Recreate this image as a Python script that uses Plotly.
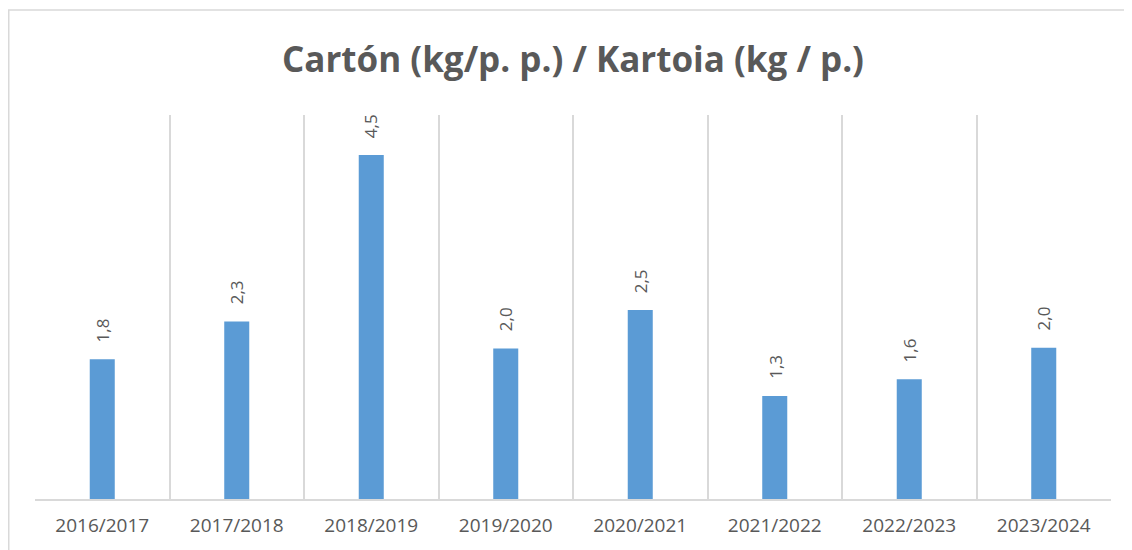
import plotly.graph_objects as go

categories = ["2016/2017", "2017/2018", "2018/2019", "2019/2020",
              "2020/2021", "2021/2022", "2022/2023", "2023/2024"]
values = [1.82, 2.31, 4.48, 1.96, 2.46, 1.34, 1.56, 1.97]
title_text = "Cartón (kg/p. p.) / Kartoia (kg / p.)"

gray = "#595959"
grid = "#d9d9d9"

fig = go.Figure()
fig.add_trace(go.Bar(
    x=categories, y=values,
    marker=dict(color="#5B9BD5", line=dict(width=0)),
    width=0.186,
    hoverinfo="skip",
))

for c, v in zip(categories, values):
    fig.add_annotation(
        x=c, y=v, text=f"{v:.1f}".replace(".", ","),
        textangle=-90, showarrow=False, yanchor="bottom",
        yshift=15, font=dict(family="Open Sans", size=17, color=gray),
    )

# page body has an 8px offset, so the figure is laid out 8px smaller
W, H = 1124, 542
ml, mr, mt, mb = 27, 21, 107, 47
pw, ph = W - ml - mr, H - mt - mb
fig.add_shape(
    type="rect", xref="paper", yref="paper",
    x0=(0.75 - ml) / pw, x1=(1123 - ml) / pw,
    y0=(H - mb - 600) / ph, y1=(H - mb - 1) / ph,
    line=dict(color=grid, width=1.5), fillcolor="rgba(0,0,0,0)", layer="below",
)

fig.update_layout(
    width=W, height=H,
    margin=dict(l=ml, r=mr, t=mt, b=mb),
    paper_bgcolor="white", plot_bgcolor="white",
    separators=",.",
    showlegend=False,
    title=dict(text=title_text, x=0.5, xref="paper", y=1 - 52 / H, yanchor="middle",
               font=dict(family="Open Sans", size=35, color=gray, weight="bold")),
    xaxis=dict(
        tickson="boundaries", showgrid=True, gridcolor=grid, gridwidth=1.5,
        showline=True, linecolor=grid, linewidth=1.5, ticks="",
        tickfont=dict(family="Open Sans", size=19, color=gray),
        ticklabelstandoff=8,
    ),
    yaxis=dict(range=[0, 5], visible=False, showgrid=False),
)

fig.write_html("out.html")
